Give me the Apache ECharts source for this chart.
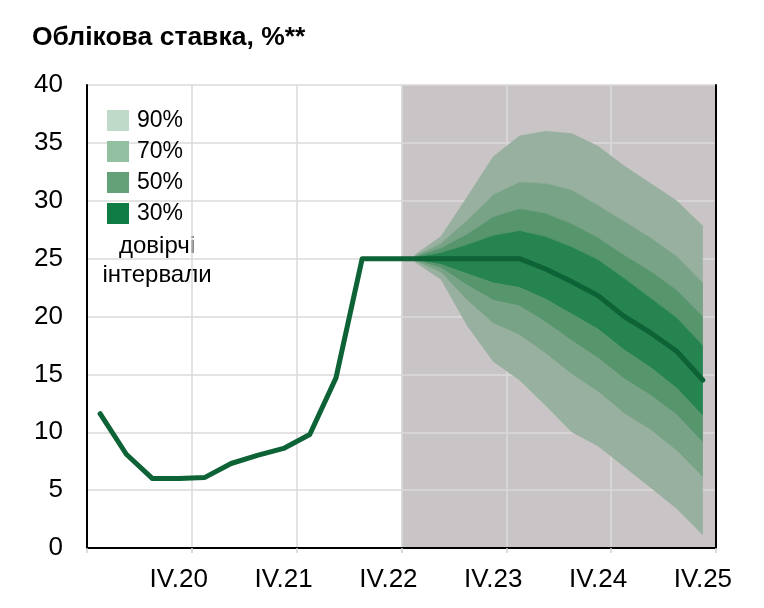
<!DOCTYPE html>
<html>
<head>
<meta charset="utf-8">
<script src="https://cdn.jsdelivr.net/npm/echarts@6/dist/echarts.min.js"></script>
<style>
  html, body { margin: 0; padding: 0; background: #ffffff; }
  #chart { width: 764px; height: 608px; }
</style>
</head>
<body>
<div id="chart"></div>
<script>
// ---- Data ----
const categories = [
  'I.20','II.20','III.20','IV.20',
  'I.21','II.21','III.21','IV.21',
  'I.22','II.22','III.22','IV.22',
  'I.23','II.23','III.23','IV.23',
  'I.24','II.24','III.24','IV.24',
  'I.25','II.25','III.25','IV.25'
];
const policyRate = [11.6, 8.1, 6.0, 6.0, 6.1, 7.3, 8.0, 8.6, 9.8, 14.7, 25, 25,
                    25, 25, 25, 25, 25, 24.1, 23.0, 21.8, 20.0, 18.6, 17.0, 14.5];
const forecastStartLabel = 'I.23';   // first forecast quarter (shaded to the end)
// confidence interval bounds
const lo90 = ['-','-','-','-','-','-','-','-','-','-','-','-',
  24.7, 23.2, 19.2, 16.1, 14.5, 12.3, 10.0, 8.8, 7.0, 5.2, 3.4, 1.1];
const lo70 = ['-','-','-','-','-','-','-','-','-','-','-','-',
  24.8, 23.8, 21.4, 19.4, 18.4, 16.8, 15.0, 13.5, 11.6, 10.2, 8.4, 6.1];
const lo50 = ['-','-','-','-','-','-','-','-','-','-','-','-',
  24.85, 24.2, 22.7, 21.4, 20.9, 19.5, 17.9, 16.4, 14.6, 13.2, 11.5, 9.1];
const lo30 = ['-','-','-','-','-','-','-','-','-','-','-','-',
  24.9, 24.5, 23.7, 22.9, 22.5, 21.5, 20.2, 18.9, 17.1, 15.6, 13.8, 11.4];
const hi30 = ['-','-','-','-','-','-','-','-','-','-','-','-',
  25.1, 25.5, 26.2, 27.0, 27.4, 26.9, 26.0, 24.9, 23.3, 21.6, 19.9, 17.5];
const hi50 = ['-','-','-','-','-','-','-','-','-','-','-','-',
  25.15, 25.9, 27.1, 28.6, 29.3, 28.9, 28.0, 26.8, 25.3, 23.9, 22.3, 20.0];
const hi70 = ['-','-','-','-','-','-','-','-','-','-','-','-',
  25.2, 26.3, 28.3, 30.5, 31.6, 31.5, 30.9, 29.6, 28.2, 26.8, 25.2, 22.9];
const hi90 = ['-','-','-','-','-','-','-','-','-','-','-','-',
  25.3, 26.9, 30.3, 33.8, 35.6, 36.0, 35.8, 34.7, 33.0, 31.5, 30.0, 27.8];
const bandNames = ['90%', '70%', '50%', '30%'];
const yTicks = { min: 0, max: 40, step: 5 };

// ---- Styles ----
const FONT = 'Liberation Sans, Arial, sans-serif';
const bandColor = { '90%': '#98b09f', '70%': '#78a386', '50%': '#57966d', '30%': '#268451' };
const legendColor = { '90%': '#bfdac9', '70%': '#94c0a2', '50%': '#64a179', '30%': '#107c45' };
const gridColor = '#dadada';
const shadeColor = '#c9c4c6';

function diff(lower, upper) {
  return lower.map((v, i) => (v === '-' || upper[i] === '-') ? '-' : +(upper[i] - v).toFixed(3));
}
function band(name, data) {
  return {
    name: name, type: 'line', stack: 'fan', data: data, z: 3,
    symbol: 'none', silent: true,
    lineStyle: { width: 0.6, color: bandColor[name] },
    itemStyle: { color: bandColor[name] },
    areaStyle: { color: bandColor[name], opacity: 1 }
  };
}

const fcStart = categories.indexOf(forecastStartLabel);
const series = [
  {
    // forecast-period shading over whole quarters, on a hidden index axis
    name: 'forecast', type: 'line', xAxisIndex: 2, z: 1, silent: true, symbol: 'none',
    data: [[fcStart, yTicks.max], [categories.length, yTicks.max]],
    lineStyle: { width: 0, opacity: 0 },
    areaStyle: { color: shadeColor, opacity: 1 }
  },
  {
    name: 'base', type: 'line', stack: 'fan', data: lo90, z: 3, symbol: 'none', silent: true,
    lineStyle: { width: 0, opacity: 0 }
  },
  band('90%', diff(lo90, lo70)),
  band('70%', diff(lo70, lo50)),
  band('50%', diff(lo50, lo30)),
  band('30%', diff(lo30, hi30)),
  band('50%', diff(hi30, hi50)),
  band('70%', diff(hi50, hi70)),
  band('90%', diff(hi70, hi90)),
  {
    name: 'rate', type: 'line', data: policyRate, z: 4, symbol: 'none', silent: true,
    lineStyle: { width: 5, color: '#0d6236', cap: 'round', join: 'round' }
  }
];

const chart = echarts.init(document.getElementById('chart'), null, { renderer: 'canvas' });
chart.setOption({
  animation: false,
  backgroundColor: '#ffffff',
  textStyle: { fontFamily: FONT },
  title: {
    text: 'Облікова ставка, %**',
    left: 32, top: 24,
    padding: 0,
    textStyle: { fontFamily: FONT, fontSize: 26.5, fontWeight: 'bold', color: '#000' }
  },
  grid: { left: 87, right: 48, top: 85, bottom: 60, containLabel: false },
  legend: {
    orient: 'vertical',
    left: 107, top: 109,
    icon: 'rect',
    itemWidth: 22, itemHeight: 21, itemGap: 8,
    selectedMode: false,
    padding: 0,
    itemStyle: { borderWidth: 0 },
    textStyle: { fontFamily: FONT, fontSize: 23, color: '#000', padding: [0, 0, 0, 3] },
    data: bandNames.map(n => ({ name: n, itemStyle: { color: legendColor[n], borderWidth: 0 } }))
  },
  graphic: [
    {
      type: 'text', x: 157, y: 246,
      style: { text: 'довірчі', font: '24px ' + FONT, fill: '#000', textAlign: 'center', textVerticalAlign: 'middle' }
    },
    {
      type: 'text', x: 157, y: 275,
      style: { text: 'інтервали', font: '24px ' + FONT, fill: '#000', textAlign: 'center', textVerticalAlign: 'middle' }
    }
  ],
  xAxis: [
    {
      type: 'category', data: categories, boundaryGap: true, position: 'bottom', z: 5,
      axisLine: { show: true, lineStyle: { color: '#000', width: 2 } },
      axisTick: { show: true, inside: false, length: 5, interval: (i) => i % 4 === 0,
                  lineStyle: { color: '#cfcfcf', width: 1.5 } },
      axisLabel: { show: true, interval: (i) => i % 4 === 3, fontSize: 26, color: '#000',
                   fontFamily: FONT, margin: 19 },
      splitLine: { show: false }
    },
    {
      type: 'category', data: categories, boundaryGap: true, position: 'top', z: 2,
      axisLine: { show: true, lineStyle: { color: '#000', width: 2 } },
      axisTick: { show: false },
      axisLabel: { show: false },
      splitLine: { show: true, interval: (i) => i % 4 === 0, lineStyle: { color: gridColor, width: 1.5 } }
    },
    {
      type: 'value', min: 0, max: categories.length, show: false
    }
  ],
  yAxis: [
    {
      type: 'value', min: yTicks.min, max: yTicks.max, interval: yTicks.step, position: 'left', z: 5,
      axisLine: { show: true, lineStyle: { color: '#000', width: 2 } },
      axisTick: { show: false },
      axisLabel: { fontSize: 26, color: '#000', fontFamily: FONT, margin: 24 },
      splitLine: { show: false }
    },
    {
      type: 'value', min: yTicks.min, max: yTicks.max, interval: yTicks.step, position: 'right', z: 2,
      axisLine: { show: true, lineStyle: { color: '#000', width: 2 } },
      axisTick: { show: false },
      axisLabel: { show: false },
      splitLine: { show: true, lineStyle: { color: gridColor, width: 1.5 } }
    }
  ],
  series: series
});
</script>
</body>
</html>
